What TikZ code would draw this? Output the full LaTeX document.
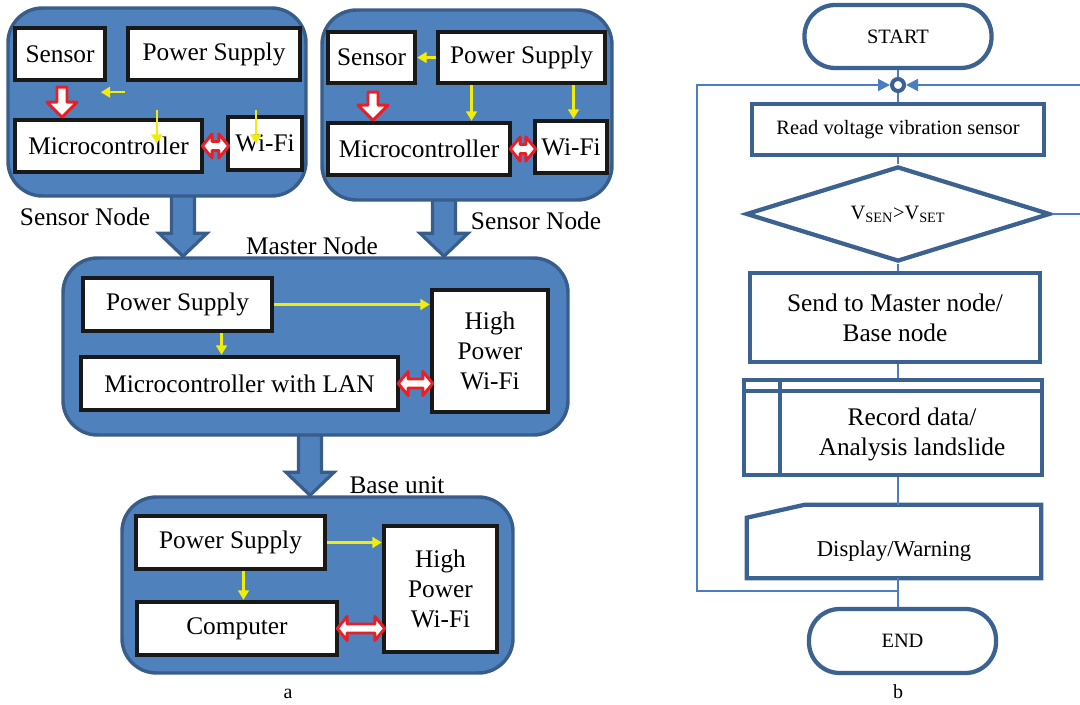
\documentclass[tikz,border=0pt]{standalone}
\usepackage{fontspec}
\setmainfont{Liberation Serif}
\usetikzlibrary{calc,arrows.meta,shapes.geometric,backgrounds}

\definecolor{panelfill}{RGB}{79,129,189}
\definecolor{paneldraw}{RGB}{56,93,138}
\definecolor{flowdraw}{RGB}{59,98,145}
\definecolor{flowthin}{RGB}{74,126,192}
\definecolor{pwryellow}{RGB}{242,236,10}
\definecolor{sigred}{RGB}{234,30,38}

\newcommand{\boxfont}{\fontsize{19}{22.5}\selectfont}
\newcommand{\readfont}{\fontsize{15.3}{18}\selectfont}
\newcommand{\dispfont}{\fontsize{17}{20}\selectfont}
\newcommand{\capfont}{\fontsize{15}{18}\selectfont}

% hollow red arrows and big blue arrows
\newcommand{\reddown}[2]{\draw[redarr] ($(#1)+(-5,0)$) -- ($(#1)+(5,0)$) -- ($(#2)+(5,-15)$) -- ($(#2)+(15,-15)$) -- (#2) -- ($(#2)+(-15,-15)$) -- ($(#2)+(-5,-15)$) -- cycle;}
\newcommand{\redlr}[2]{\draw[redarr] ($(#1)+(-2,0)$) -- ($(#1)+(8,-12)$) -- ($(#1)+(8,-4.5)$) -- ($(#2)+(-7,-4.5)$) -- ($(#2)+(-7,-12)$) -- ($(#2)+(3,0)$) -- ($(#2)+(-7,12)$) -- ($(#2)+(-7,4.5)$) -- ($(#1)+(8,4.5)$) -- ($(#1)+(8,12)$) -- cycle;}
\newcommand{\bluedown}[2]{\draw[bigarr] ($(#1)+(-11.5,-4)$) -- ($(#2)+(-11.5,-23)$) -- ($(#2)+(-24,-23)$) -- (#2) -- ($(#2)+(24,-23)$) -- ($(#2)+(11.5,-23)$) -- ($(#1)+(11.5,-4)$) -- cycle;}

\tikzset{
  sz/.style 2 args={minimum width=#1*0.75pt, minimum height=#2*0.75pt},
  panel/.style={draw=paneldraw, fill=panelfill, line width=2.6pt, rounded corners=26pt, inner sep=0pt},
  wbox/.style={draw=black!90, fill=white, line width=3.3pt, inner sep=0pt, font=\boxfont, align=center},
  lbl/.style={inner sep=0pt, font=\boxfont},
  yarr/.style={draw=pwryellow, line width=1.6pt, -{Triangle[length=7pt,width=8pt]}},
  redarr/.style={draw=sigred, fill=white, line width=2.2pt, line join=round},
  bigarr/.style={draw=paneldraw, fill=panelfill, line width=2.4pt, line join=miter},
  term/.style={draw=flowdraw, fill=white, line width=3.2pt, rounded corners=23pt, inner sep=0pt, font=\readfont},
  fbox/.style={draw=flowdraw, fill=white, line width=3.2pt, inner sep=0pt, font=\boxfont, align=center},
  dec/.style={diamond, aspect=3.2, draw=flowdraw, fill=white, line width=3.2pt, inner sep=0pt, font=\readfont},
  junc/.style={circle, draw=flowdraw, fill=white, line width=3pt, minimum size=9pt, inner sep=0pt},
  fline/.style={draw=flowthin, line width=1.3pt},
  flarr/.style={-{Triangle[length=9pt,width=9pt]}},
}

\begin{document}
\begin{tikzpicture}[x=0.75pt,y=0.75pt,yscale=-1,xscale=1]
\useasboundingbox (0,0) rectangle (1080,705);

%% ---------- (a) block diagram ----------
% Sensor node, left
\node[panel, sz={298}{188}] (sn1) at (157,102) {};
\node[wbox, sz={90}{52}] (sen1) at (60,54) {Sensor};
\node[wbox, sz={172}{52}] (ps1) at (214,54) {Power Supply};
\node[wbox, sz={187}{52}] (mc1) at (108.5,146) {Microcontroller};
\node[wbox, sz={74}{53}] (wf1) at (265,143.5) {Wi-Fi};
\coordinate (r1t) at ($(sen1.south)+(2,5)$);
\coordinate (r1b) at ($(sen1.south)+(2,35)$);
\reddown{r1t}{r1b}
\redlr{mc1.east}{wf1.west |- mc1.east}
\draw[yarr] ($(ps1.south west)+(-1,10)$) -- ++(-24,0);
\draw[yarr] ($(mc1.north west)+(144,-8)$) -- ++(0,34);
\draw[yarr] ($(wf1.north west)+(30,-5)$) -- ++(0,34);
\node[lbl] (snl1) at (85,217) {Sensor Node};

% Sensor node, right
\node[panel, sz={290}{190}] (sn2) at (467,105) {};
\node[wbox, sz={87}{51}] (sen2) at (371.5,57.5) {Sensor};
\node[wbox, sz={167}{51}] (ps2) at (521.5,57.5) {Power Supply};
\node[wbox, sz={182}{52}] (mc2) at (419,149) {Microcontroller};
\node[wbox, sz={72}{52}] (wf2) at (571,147) {Wi-Fi};
\coordinate (r2t) at ($(sen2.south)+(1.5,7)$);
\coordinate (r2b) at ($(sen2.south)+(1.5,35)$);
\reddown{r2t}{r2b}
\redlr{mc2.east}{wf2.west |- mc2.east}
\draw[yarr] (ps2.west) -- (sen2.east |- ps2.west);
\coordinate (p2a) at ($(ps2.south)+(-50,0)$);
\coordinate (p2b) at ($(ps2.south)+(52,0)$);
\draw[yarr] (p2a) -- (p2a |- mc2.north);
\draw[yarr] (p2b) -- (p2b |- wf2.north);
\node[lbl] (snl2) at (536,221) {Sensor Node};

% Master node
\node[panel, sz={505}{177}] (mst) at (315.5,346.5) {};
\node[lbl] (mstl) at (312,246) {Master Node};
\node[wbox, sz={189}{53}] (mps) at (177.5,304.5) {Power Supply};
\node[wbox, sz={317}{53}] (mmc) at (239.5,383.5) {Microcontroller with LAN};
\node[wbox, sz={116}{122}] (mhw) at (490,351) {High\\Power\\Wi-Fi};
\draw[yarr] (mps.east) -- (mps.east -| mhw.west);
\coordinate (pm) at ($(mps.south)+(44,0)$);
\draw[yarr] (pm) -- (pm |- mmc.north);
\redlr{mmc.east}{mhw.west |- mmc.east}

% Base unit
\node[panel, sz={391}{176}] (bse) at (317.5,585) {};
\node[lbl] (bsel) at (397,485) {Base unit};
\node[wbox, sz={189}{53}] (bps) at (230.5,542.5) {Power Supply};
\node[wbox, sz={200}{53}] (cmp) at (237,628.5) {Computer};
\node[wbox, sz={113}{126}] (bhw) at (440.5,589) {High\\Power\\Wi-Fi};
\draw[yarr] (bps.east) -- (bps.east -| bhw.west);
\coordinate (pb) at ($(bps.south)+(13,0)$);
\draw[yarr] (pb) -- (pb |- cmp.north);
\redlr{cmp.east}{bhw.west |- cmp.east}

% big arrows behind the units
\begin{pgfonlayer}{background}
\coordinate (a1) at ($(sn1.south)+(26,0)$);
\bluedown{a1}{a1 |- mst.north}
\coordinate (a2) at ($(sn2.south)+(-23,0)$);
\bluedown{a2}{a2 |- mst.north}
\coordinate (a3) at ($(mst.south)+(-5.5,0)$);
\bluedown{a3}{a3 |- bse.north}
\end{pgfonlayer}

\node[inner sep=0pt, font=\capfont] (capa) at (288,694) {a};

%% ---------- (b) flowchart ----------
\node[term, sz={187}{63}] (start) at (898,36.5) {START};
\node[junc] (jn) at (898,85) {};
\node[fbox, sz={292}{51}, font=\readfont] (read) at (898,129.5) {Read voltage vibration sensor};
\node[dec, sz={304}{95}] (dia) at (898,214) {V\textsubscript{SEN}>V\textsubscript{SET}};
\node[fbox, sz={290}{89}] (send) at (895,317.5) {Send to Master node/\\Base node};
\node[fbox, sz={298}{95}] (rec) at (893,427.5) {};
\node[inner sep=0pt, font=\boxfont, align=center] (rectxt) at (912,434) {Record data/\\Analysis landslide};
\node[inner sep=0pt, sz={294}{73}] (disp) at (894,541.5) {};
\node[term, sz={187}{64}] (end) at (902.5,641) {END};

% predefined process and manual input outlines
\draw[draw=flowdraw, line width=3.2pt] ($(rec.north west)+(0,13)$) -- ($(rec.north east)+(0,13)$);
\draw[draw=flowdraw, line width=3.2pt] ($(rec.north west)+(38,0)$) -- ($(rec.south west)+(38,0)$);
\draw[draw=flowdraw, line width=3.2pt, fill=white] (disp.south west) -- ($(disp.north west)+(0,13)$) -- ($(disp.north west)+(58,0)$) -- (disp.north east) -- (disp.south east) -- cycle;
\node[inner sep=0pt, font=\dispfont] (disptxt) at (894,551) {Display/Warning};

% flow lines
\draw[fline] (start) -- (jn);
\draw[fline] (jn) -- (read);
\draw[fline] (read) -- (dia);
\draw[fline] (dia.south) -- (dia.south |- send.north);
\draw[fline] (jn |- send.south) -- (jn |- rec.north);
\draw[fline] (jn |- rec.south) -- (jn |- disp.north);
\draw[fline] (jn |- disp.south) -- (jn |- end.north);
\coordinate (lb) at (697,591);
\coordinate (lt) at (697,85);
\draw[fline, flarr] (jn |- lb) -- (lb) -- (lt) -- (jn.west);
\coordinate (rt) at (1084,85);
\draw[fline, flarr] (dia.east) -| (rt) -- (jn.east);

\node[inner sep=0pt, font=\capfont] (capb) at (898,692) {b};
\end{tikzpicture}
\end{document}
